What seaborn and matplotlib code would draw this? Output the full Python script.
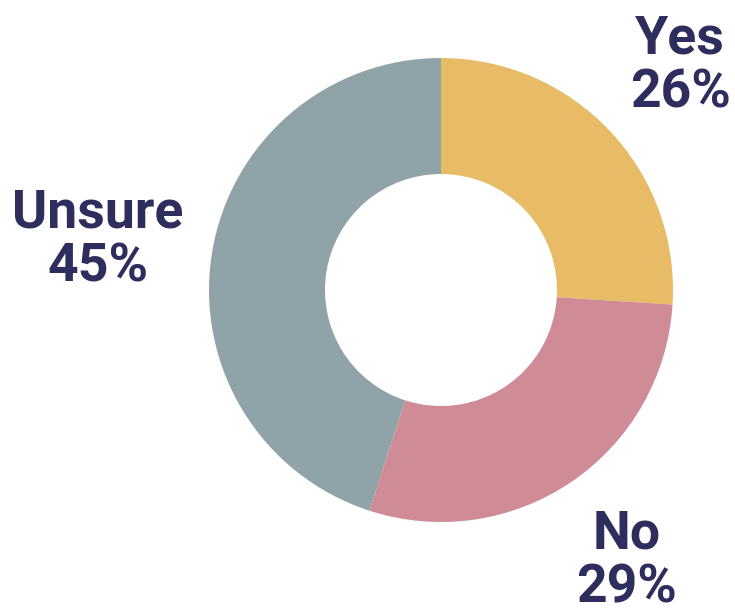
import matplotlib
matplotlib.use("Agg")
import matplotlib.pyplot as plt
import seaborn as sns

categories = ["Yes", "No", "Unsure"]
values = [26, 29, 45]
colors = ["#E8BB67", "#CF8B96", "#8FA3A8"]
text_color = "#2E2D5E"

sns.set_theme(style="white")
plt.rcParams["font.family"] = ["Roboto", "DejaVu Sans"]

W, H = 735, 614
fig = plt.figure(figsize=(W / 100, H / 100), dpi=100)
cx, cy, r = 441, 290, 232
ax = fig.add_axes([(cx - r) / W, (H - cy - r) / H, 2 * r / W, 2 * r / H])
ax.pie(values, colors=colors, startangle=90, counterclock=False,
       radius=1, wedgeprops=dict(width=0.5, linewidth=0))
ax.set_xlim(-1, 1)
ax.set_ylim(-1, 1)
ax.set_aspect("equal")
ax.axis("off")

label_pos = {"Yes": (680, 66), "No": (627, 561), "Unsure": (98, 240)}
for cat, val in zip(categories, values):
    x, y = label_pos[cat]
    fig.text(x / W, 1 - y / H, f"{cat}\n{val}%", ha="center", va="center",
             fontsize=38.5, fontweight="bold", color=text_color, linespacing=1.08)

fig.savefig("out.png", dpi=100)
